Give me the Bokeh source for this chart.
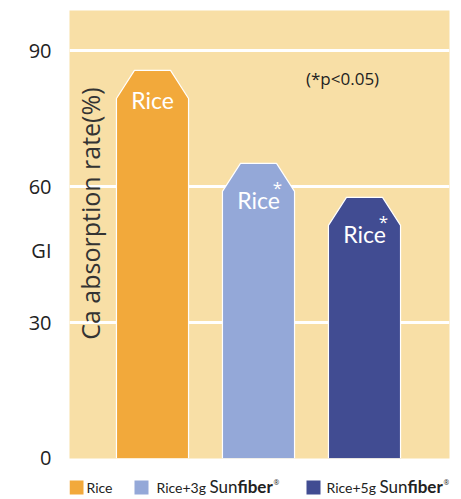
from math import pi

from bokeh.embed import file_html
from bokeh.layouts import column
from bokeh.models import ColumnDataSource, FixedTicker, Label, Range1d
from bokeh.plotting import figure
from bokeh.resources import INLINE
from bokeh.core.properties import value

# ---- data -------------------------------------------------------------
groups = ["Rice", "Rice+3g Sunfiber", "Rice+5g Sunfiber"]
bar_text = ["Rice", "Rice", "Rice"]
gi_values = [85.6, 65.1, 57.6]
significant = [False, True, True]
colors = ["#F2A93B", "#94A8D8", "#414C92"]
y_ticks = [0, 30, 60, 90]
grid_ticks = [30, 60, 90]
y_title = "GI"

# ---- styling constants -------------------------------------------------
BG = "#F8DFA6"
TEXT = "#222222"
COND = "Lato"
LEFT, RIGHT = 69, 12  # outer borders around the plotting area (px)
W = 461
BAR_W = 0.68          # bar width in x units
CHAMFER_X = 0.17      # horizontal cut of the top corners (x units)
CHAMFER_Y = 6.2       # vertical cut of the top corners (y units)
TITLE_AT = 45.9       # height at which the y title sits beside the axis

xpos = [i + 1 for i in range(len(groups))]

p = figure(width=W, height=470, x_range=Range1d(0.217, 3.802),
           y_range=Range1d(0, 98.8), output_backend="svg",
           toolbar_location=None, min_border_left=LEFT, min_border_right=RIGHT,
           min_border_top=10, min_border_bottom=12)
p.background_fill_color = BG
p.border_fill_color = "white"
p.outline_line_color = None

p.xaxis.visible = False
p.xgrid.grid_line_color = None
p.ygrid.ticker = FixedTicker(ticks=grid_ticks)
p.ygrid.grid_line_color = "white"
p.ygrid.grid_line_width = 3

# y axis: numeric ticks plus the horizontal "GI" title in the same column
yax = p.yaxis[0]
yax.ticker = FixedTicker(ticks=sorted(y_ticks + [TITLE_AT]))
yax.major_label_overrides = {TITLE_AT: y_title}
yax.axis_line_color = None
yax.major_tick_line_color = None
yax.minor_tick_line_color = None
yax.major_label_standoff = 12
yax.major_label_text_font = "Open Sans"
yax.major_label_text_font_size = "20px"
yax.major_label_text_color = TEXT

# bars with clipped top corners
xs, ys = [], []
for x, v in zip(xpos, gi_values):
    l, r = x - BAR_W / 2, x + BAR_W / 2
    xs.append([l, l, l + CHAMFER_X, r - CHAMFER_X, r, r])
    ys.append([0, v - CHAMFER_Y, v, v, v - CHAMFER_Y, 0])
p.patches(xs=xs, ys=ys, fill_color=colors, line_color="white", line_width=1.2)

# labels inside the bars
lab_src = ColumnDataSource(dict(
    x=xpos, y=gi_values, text=bar_text,
    off=[37 if s else 30 for s in significant]))
p.text(x="x", y="y", text="text", y_offset="off", source=lab_src,
       text_align="center", text_baseline="middle", text_color="white",
       text_font=value(COND), text_font_size="23px")

star_x = [x for x, s in zip(xpos, significant) if s]
star_y = [v for v, s in zip(gi_values, significant) if s]
p.text(x=star_x, y=star_y, text=["*"] * len(star_x), x_offset=19, y_offset=24,
       text_align="center", text_baseline="middle", text_color="white",
       text_font=value("Open Sans"), text_font_size="17px")

p.add_layout(Label(x=2.793, y=83.8, text="(*p<0.05)", text_align="center",
                   text_baseline="middle", text_font="Open Sans",
                   text_font_size="17px", text_color=TEXT))
p.add_layout(Label(x=0.41, y=54.0, text="Ca absorption rate(%)", angle=pi / 2,
                   text_align="center", text_baseline="middle",
                   text_font="Open Sans", text_font_size="25px",
                   text_color="#333333"))

# ---- legend strip (x in page pixels, frame aligned with the chart) -----
lg = figure(width=W, height=29, x_range=Range1d(LEFT, W - RIGHT),
            y_range=Range1d(29, 0), output_backend="svg",
            toolbar_location=None, min_border=0,
            min_border_left=LEFT, min_border_right=RIGHT)
lg.axis.visible = False
lg.grid.grid_line_color = None
lg.outline_line_color = None
lg.background_fill_color = "white"
lg.border_fill_color = "white"

MID = 17
sw_left = [69, 134, 306]
lg.quad(left=sw_left, right=[s + 14 for s in sw_left], top=[MID - 7] * 3,
        bottom=[MID + 7] * 3, fill_color=colors, line_color=None)

prefix = [g.split(" ")[0] for g in groups]
prefix_x = [86, 156, 326]
lg.text(x=prefix_x, y=[MID] * 3, text=prefix, text_baseline="middle",
        text_font=value(COND), text_font_size="14px", text_color=TEXT)

brand_rows = [i for i, g in enumerate(groups) if "Sunfiber" in g]
sun_x = [prefix_x[i] + 53 for i in brand_rows]
fib_x = [prefix_x[i] + 81 for i in brand_rows]
reg_x = [prefix_x[i] + 117 for i in brand_rows]
lg.text(x=sun_x, y=[MID - 1] * len(sun_x), text=["Sun"] * len(sun_x),
        text_baseline="middle", text_font=value(COND),
        text_font_size="17px", text_color=TEXT)
lg.text(x=fib_x, y=[MID - 1] * len(fib_x), text=["fiber"] * len(fib_x),
        text_baseline="middle", text_font=value(COND),
        text_font_style="bold", text_font_size="17px", text_color=TEXT)
lg.text(x=reg_x, y=[MID - 5] * len(reg_x), text=["®"] * len(reg_x),
        text_baseline="middle", text_font=value("Open Sans"),
        text_font_size="7px", text_color=TEXT)

layout = column(p, lg, spacing=0)
open("out.html", "w").write(file_html(layout, INLINE))
